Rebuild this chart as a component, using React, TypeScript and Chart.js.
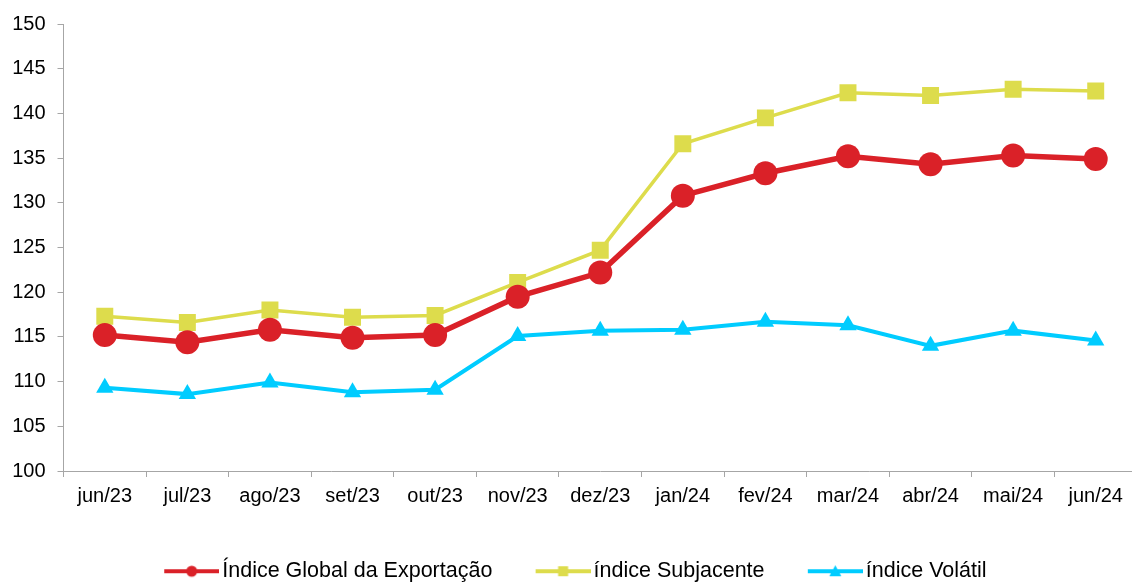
import React, { useEffect, useRef } from "react";
import { Chart, registerables } from "chart.js";

Chart.register(...registerables);

const categories = ["jun/23", "jul/23", "ago/23", "set/23", "out/23", "nov/23", "dez/23", "jan/24", "fev/24", "mar/24", "abr/24", "mai/24", "jun/24"];
const globalIndex = [115.2, 114.4, 115.8, 114.9, 115.2, 119.5, 122.2, 130.8, 133.3, 135.2, 134.3, 135.3, 134.9];
const underlyingIndex = [117.3, 116.6, 118.0, 117.2, 117.4, 121.1, 124.7, 136.6, 139.5, 142.3, 142.0, 142.7, 142.5];
const volatileIndex = [109.3, 108.6, 109.9, 108.8, 109.1, 115.1, 115.7, 115.8, 116.7, 116.3, 114.0, 115.7, 114.6];
const seriesNames = ["Índice Global da Exportação", "índice Subjacente", "índice Volátil"];
const yMin = 100;
const yMax = 150;
const yStep = 5;

const RED = "#DA2128";
const YELLOW = "#DDDC4C";
const BLUE = "#00CCFF";
const GRAY = "#A6A6A6";
const FONT = "'Liberation Sans', Arial, sans-serif";

function makeLegendIcon(color: string, kind: string): HTMLCanvasElement {
  const c = document.createElement("canvas");
  c.width = 63;
  c.height = 14;
  const ctx = c.getContext("2d")!;
  ctx.strokeStyle = color;
  ctx.fillStyle = color;
  ctx.lineWidth = 4;
  ctx.beginPath();
  ctx.moveTo(8, 7);
  ctx.lineTo(63, 7);
  ctx.stroke();
  const cx = 35.5;
  const cy = 7;
  ctx.beginPath();
  if (kind === "circle") {
    ctx.arc(cx, cy, 5.5, 0, Math.PI * 2);
  } else if (kind === "rect") {
    ctx.rect(cx - 5, cy - 5, 10, 10);
  } else {
    ctx.moveTo(cx, cy - 6);
    ctx.lineTo(cx + 6, cy + 5);
    ctx.lineTo(cx - 6, cy + 5);
    ctx.closePath();
  }
  ctx.fill();
  return c;
}

export default function App() {
  const ref = useRef<HTMLCanvasElement>(null);

  useEffect(() => {
    const canvas = ref.current!;
    const icons = [makeLegendIcon(RED, "circle"), makeLegendIcon(YELLOW, "rect"), makeLegendIcon(BLUE, "triangle")];
    const tickFont = { family: FONT, size: 20 };
    const chart = new Chart(canvas, {
      type: "line",
      data: {
        labels: categories,
        datasets: [
          {
            label: seriesNames[0],
            data: globalIndex,
            borderColor: RED,
            backgroundColor: RED,
            borderWidth: 5.5,
            pointStyle: "circle",
            pointRadius: 12,
            pointBorderWidth: 0,
            pointBackgroundColor: RED,
            tension: 0,
          },
          {
            label: seriesNames[1],
            data: underlyingIndex,
            borderColor: YELLOW,
            backgroundColor: YELLOW,
            borderWidth: 3.5,
            pointStyle: "rect",
            pointRadius: 12,
            pointBorderWidth: 0,
            pointBackgroundColor: YELLOW,
            tension: 0,
          },
          {
            label: seriesNames[2],
            data: volatileIndex,
            borderColor: BLUE,
            backgroundColor: BLUE,
            borderWidth: 4,
            pointStyle: "triangle",
            pointRadius: 10,
            pointBorderWidth: 0,
            pointBackgroundColor: BLUE,
            tension: 0,
          },
        ],
      },
      options: {
        responsive: false,
        animation: false,
        devicePixelRatio: 1,
        layout: { padding: { left: 12, right: 10.5, top: 23, bottom: 0 } },
        plugins: {
          tooltip: { enabled: false },
          legend: {
            position: "bottom",
            labels: {
              usePointStyle: true,
              pointStyleWidth: 47.5,
              padding: 43,
              color: "#000",
              font: { family: FONT, size: 21.5 },
              generateLabels: (ch: any) => {
                const items = (Chart.defaults.plugins.legend.labels as any).generateLabels(ch);
                return items.map((it: any, i: number) => ({ ...it, pointStyle: icons[i], lineWidth: 0 }));
              },
            },
          },
        },
        scales: {
          x: {
            offset: true,
            grid: { offset: true, drawOnChartArea: false, drawTicks: true, tickLength: 6, color: GRAY },
            border: { color: GRAY, width: 1 },
            ticks: { font: tickFont, color: "#000", padding: 7, maxRotation: 0, autoSkip: false },
            afterFit: (s: any) => {
              s.height = 46.5;
            },
          },
          y: {
            min: yMin,
            max: yMax,
            ticks: { stepSize: yStep, font: tickFont, color: "#000", padding: 12 },
            grid: { drawOnChartArea: false, drawTicks: true, tickLength: 6, color: GRAY },
            border: { color: GRAY, width: 1 },
            afterFit: (s: any) => {
              s.width = 51.5;
            },
          },
        },
      },
    } as any);
    return () => chart.destroy();
  }, []);

  return (
    <div style={{ position: "fixed", left: 0, top: 0, width: 1132, height: 582, overflow: "hidden", background: "#fff" }}>
      <canvas ref={ref} width={1149} height={592} style={{ display: "block", width: 1149, height: 592 }} />
    </div>
  );
}
